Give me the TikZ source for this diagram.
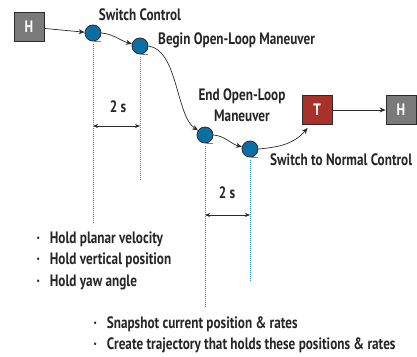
\documentclass[tikz,border=0pt]{standalone}
\usepackage{fontspec}
\setmainfont{PT Sans}[FakeStretch=0.8]
\usetikzlibrary{arrows.meta}
\definecolor{boxgray}{HTML}{7A7A7A}
\definecolor{boxred}{HTML}{A8322A}
\definecolor{dotblue}{HTML}{0B6FA4}
\definecolor{guideblue}{HTML}{2A8CC4}
\definecolor{edge}{HTML}{2B2B2B}
\definecolor{txt}{HTML}{262626}
\begin{document}
\begin{tikzpicture}[x=1pt,y=1pt,
  font=\fontsize{16.5}{21.5}\selectfont\bfseries, text=txt,
  blk/.style={draw=edge,line width=0.9pt,minimum width=30pt,minimum height=29pt,text=white,inner sep=0pt},
  pt/.style={circle,draw=edge,fill=dotblue,line width=0.8pt,minimum size=16pt,inner sep=0pt},
  flow/.style={-{Stealth[length=6pt,width=5pt]},line width=0.7pt,draw=edge},
  guide/.style={draw=guideblue,line width=1pt,dash pattern=on 1pt off 1pt},
  dim/.style={{Stealth[length=5pt,width=4pt]}-{Stealth[length=5pt,width=4pt]},line width=0.7pt,draw=edge},
  shadowline/.style={draw=gray,line width=0.8pt}]
\useasboundingbox (0,0) rectangle (417,356);
% blocks
\node[blk,fill=boxgray] (hin) at (29,329) {H};
\node[blk,fill=boxred] (t) at (317,246) {T};
\node[blk,fill=boxgray] (hout) at (401,246) {H};
% events
\node[pt] (c1) at (93,323) {};
\node[pt] (c2) at (140,310) {};
\node[pt] (c3) at (205,221) {};
\node[pt] (c4) at (250,207) {};
\foreach \c in {c1,c2,c3,c4}
  \draw[shadowline] ([xshift=1pt]\c.south) -- ++(7,0);
% labels
\node (lswitch) at (140,341) {Switch Control};
\node[anchor=west,inner sep=0pt] (lbegin) at (158,316) {Begin Open-Loop Maneuver};
\node[align=center] (lend) at (242,251) {End Open-Loop\\Maneuver};
\node[anchor=west,inner sep=0pt] (lnormal) at (270,196) {Switch to Normal Control};
% flow
\draw[flow] (hin) -- (c1);
\draw[flow] (c1.east) to[out=-5,in=165] (c2);
\draw[flow] (c2.east) .. controls (178,306) and (176,240) .. (c3);
\draw[flow] (c3.east) to[out=-5,in=165] (c4);
\draw[flow] (c4.east) to[out=5,in=-130] ([xshift=6pt,yshift=-3pt]t.south west);
\draw[flow] (t) -- (hout);
% timing guides
\coordinate (g1) at (93,133);
\coordinate (g2) at (140,176);
\coordinate (g3) at (205,49);
\coordinate (g4) at (250,74);
\draw[guide] ([yshift=-3pt]c1.south) -- (g1);
\draw[guide] ([yshift=-3pt]c2.south) -- (g2);
\draw[guide] ([yshift=-3pt]c3.south) -- (g3);
\draw[guide] ([yshift=-3pt]c4.south) -- (g4);
\draw[dim] (c1 |- 0,230) -- (c2 |- 0,230);
\draw[dim] (c3 |- 0,141) -- (c4 |- 0,141);
\node (t1) at (118,249) {2 s};
\node (t2) at (227,163) {2 s};
% notes
\node[anchor=north west,align=left] (hold) at (33,128)
  {·\ \ \ Hold planar velocity\\·\ \ \ Hold vertical position\\·\ \ \ Hold yaw angle};
\node[anchor=north west,align=left] (snap) at (90,43)
  {·\ \ \ Snapshot current position \& rates\\·\ \ \ Create trajectory that holds these positions \& rates};
\end{tikzpicture}
\end{document}
